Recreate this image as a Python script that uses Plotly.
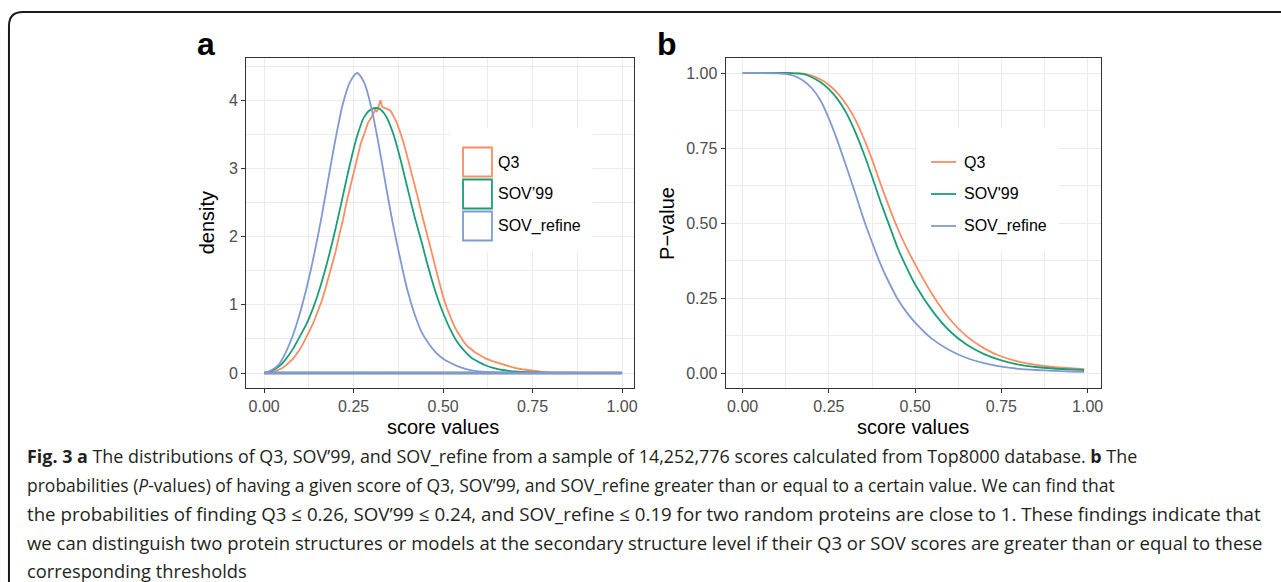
import plotly.graph_objects as go

W, H = 1281, 582

# ---------------- data ----------------
series_names_a = ["Q3", "SOV’99", "SOV_refine"]
series_names_b = ["Q3", "SOV'99", "SOV_refine"]
colors = ["#FC8D62", "#1B9E77", "#7F9AD2"]

# Panel a: density of scores
q3_x = [0.00, 0.01, 0.02, 0.03, 0.04, 0.05, 0.06, 0.07, 0.08, 0.09,
        0.10, 0.11, 0.12, 0.13, 0.14, 0.15, 0.16, 0.17, 0.18, 0.19,
        0.20, 0.21, 0.22, 0.23, 0.24, 0.25, 0.26, 0.27, 0.28, 0.29,
        0.30, 0.31, 0.315, 0.32, 0.325, 0.33, 0.335, 0.34, 0.345, 0.35,
        0.355, 0.36, 0.37, 0.38, 0.39, 0.40, 0.41, 0.42, 0.43, 0.44,
        0.45, 0.46, 0.47, 0.48, 0.49, 0.50, 0.51, 0.52, 0.53, 0.54,
        0.55, 0.56, 0.57, 0.58, 0.59, 0.60, 0.62, 0.64, 0.66, 0.68,
        0.70, 0.72, 0.74, 0.76, 0.78, 0.80, 0.85, 0.90, 1.00]
q3_density = [0.000, 0.004, 0.012, 0.025, 0.045, 0.070, 0.108, 0.150, 0.205, 0.275,
              0.350, 0.445, 0.540, 0.655, 0.770, 0.905, 1.045, 1.215, 1.395, 1.600,
              1.790, 2.030, 2.240, 2.500, 2.710, 2.960, 3.140, 3.370, 3.510, 3.670,
              3.750, 3.860, 3.830, 3.920, 4.000, 3.900, 3.890, 3.880, 3.870, 3.860,
              3.830, 3.780, 3.680, 3.530, 3.370, 3.170, 2.980, 2.760, 2.560, 2.340,
              2.150, 1.920, 1.730, 1.520, 1.310, 1.120, 0.960, 0.820, 0.700, 0.600,
              0.515, 0.440, 0.385, 0.340, 0.300, 0.270, 0.210, 0.170, 0.135, 0.100,
              0.075, 0.055, 0.038, 0.025, 0.015, 0.010, 0.004, 0.001, 0.000]

sm_x = [0.00, 0.02, 0.04, 0.06, 0.08, 0.10, 0.12, 0.14, 0.16, 0.18,
        0.20, 0.22, 0.24, 0.26, 0.28, 0.30, 0.32, 0.34, 0.36, 0.38,
        0.40, 0.42, 0.44, 0.46, 0.48, 0.50, 0.52, 0.54, 0.56, 0.58,
        0.60, 0.62, 0.64, 0.66, 0.68, 0.70, 0.75, 0.80, 0.90, 1.00]
sov99_density = [0.00, 0.03, 0.09, 0.20, 0.35, 0.54, 0.74, 1.00, 1.32, 1.70,
                 2.13, 2.60, 3.07, 3.48, 3.76, 3.87, 3.88, 3.77, 3.52, 3.15,
                 2.72, 2.30, 1.92, 1.52, 1.17, 0.88, 0.64, 0.45, 0.32, 0.22,
                 0.16, 0.11, 0.075, 0.05, 0.035, 0.022, 0.008, 0.003, 0.0, 0.0]
sovref_density = [0.00, 0.04, 0.12, 0.30, 0.55, 0.88, 1.28, 1.75, 2.28, 2.87,
                  3.45, 3.95, 4.27, 4.40, 4.25, 3.88, 3.35, 2.75, 2.18, 1.68,
                  1.22, 0.87, 0.60, 0.43, 0.30, 0.21, 0.15, 0.10, 0.065, 0.04,
                  0.025, 0.015, 0.009, 0.006, 0.004, 0.003, 0.001, 0.0, 0.0, 0.0]

# Panel b: P-values
pv_x = [0.00, 0.05, 0.10, 0.125, 0.15, 0.175, 0.20, 0.225, 0.25, 0.275,
        0.30, 0.325, 0.35, 0.375, 0.40, 0.425, 0.45, 0.475, 0.50, 0.55,
        0.60, 0.65, 0.70, 0.75, 0.80, 0.85, 0.90, 0.95, 0.99]
q3_p = [1.000, 1.000, 1.000, 1.000, 0.999, 0.998, 0.991, 0.979, 0.960, 0.933,
        0.896, 0.848, 0.785, 0.712, 0.630, 0.552, 0.480, 0.418, 0.362, 0.262,
        0.180, 0.122, 0.082, 0.055, 0.038, 0.027, 0.020, 0.016, 0.013]
sov99_p = [1.000, 1.000, 1.000, 1.000, 0.999, 0.997, 0.986, 0.970, 0.946, 0.913,
           0.868, 0.807, 0.735, 0.655, 0.570, 0.492, 0.415, 0.352, 0.295, 0.207,
           0.140, 0.094, 0.063, 0.042, 0.028, 0.020, 0.015, 0.012, 0.010]
sovref_p = [1.000, 1.000, 0.999, 0.997, 0.990, 0.975, 0.950, 0.910, 0.848, 0.773,
            0.690, 0.604, 0.515, 0.436, 0.362, 0.300, 0.245, 0.203, 0.168, 0.113,
            0.076, 0.050, 0.033, 0.021, 0.014, 0.010, 0.007, 0.005, 0.004]

x_ticks = [0.0, 0.25, 0.5, 0.75, 1.0]
ya_ticks = [0, 1, 2, 3, 4]
yb_ticks = [0.0, 0.25, 0.5, 0.75, 1.0]

caption_lines = [
    "<b>Fig. 3 a</b> The distributions of Q3, SOV’99, and SOV_refine from a sample of 14,252,776 scores calculated from Top8000 database. <b>b</b> The",
    "probabilities (<i>P</i>-values) of having a given score of Q3, SOV’99, and SOV_refine greater than or equal to a certain value. We can find that",
    "the probabilities of finding Q3 ≤ 0.26, SOV’99 ≤ 0.24, and SOV_refine ≤ 0.19 for two random proteins are close to 1. These findings indicate that",
    "we can distinguish two protein structures or models at the secondary structure level if their Q3 or SOV scores are greater than or equal to these",
    "corresponding thresholds",
]

# ---------------- helpers ----------------
def px(x):
    return x / W


def py(y):
    return 1 - y / H


FONT = "Liberation Sans, Arial, sans-serif"
LW = 1.8

fig = go.Figure()

# panel a traces
dens_sets = [(q3_x, q3_density, "linear"), (sm_x, sov99_density, "spline"), (sm_x, sovref_density, "spline")]
for (xs, ys, shp), name, col in zip(dens_sets, series_names_a, colors):
    fig.add_trace(go.Scatter(x=xs, y=ys, mode="lines", name=name, xaxis="x", yaxis="y",
                             line=dict(color=col, width=LW, shape=shp, smoothing=0.8)))
    fig.add_trace(go.Scatter(x=[xs[0], xs[-1]], y=[0, 0], mode="lines", xaxis="x", yaxis="y",
                             line=dict(color=col, width=LW + 0.6), showlegend=False, hoverinfo="skip"))

# panel b traces
for ys, name, col in zip([q3_p, sov99_p, sovref_p], series_names_b, colors):
    fig.add_trace(go.Scatter(x=pv_x, y=ys, mode="lines", name=name, xaxis="x2", yaxis="y2",
                             line=dict(color=col, width=LW, shape="spline", smoothing=0.6)))

# ---------------- axes ----------------
GRID = "#EBEBEB"
axis_common = dict(
    showline=True, mirror=True, linecolor="#333333", linewidth=1.4,
    ticks="outside", ticklen=4, tickwidth=1.1, tickcolor="#333333",
    tickfont=dict(family=FONT, size=16, color="#4D4D4D"),
    showgrid=True, gridcolor=GRID, gridwidth=1.4, zeroline=False,
)

# panel a: x=0 at px 265, x=1 at px 624 ; domain 247..635
ax_l, ax_r = 247, 636
a_x0, a_x1 = 265, 624
sa = (a_x1 - a_x0)
fig.update_layout(
    xaxis=dict(domain=[px(ax_l), px(ax_r)], anchor="y",
               range=[(ax_l - a_x0) / sa, (ax_r - a_x0) / sa],
               tickvals=x_ticks, tickformat=".2f",
               minor=dict(dtick=0.125, tick0=0, showgrid=True, gridcolor=GRID, gridwidth=0.7, ticks=""),
               **axis_common),
    yaxis=dict(domain=[py(388), py(58)], anchor="x",
               range=[-0.22, 4.62], tickvals=ya_ticks,
               minor=dict(dtick=0.5, tick0=0, showgrid=True, gridcolor=GRID, gridwidth=0.7, ticks=""),
               **axis_common),
)

# panel b: x=0 at px 745, x=1 at px 1091 ; domain 728..1104
bx_l, bx_r = 728, 1104
b_x0, b_x1 = 745, 1091
sb = (b_x1 - b_x0)
fig.update_layout(
    xaxis2=dict(domain=[px(bx_l), px(bx_r)], anchor="y2",
                range=[(bx_l - b_x0) / sb, (bx_r - b_x0) / sb],
                tickvals=x_ticks, tickformat=".2f",
                minor=dict(dtick=0.125, tick0=0, showgrid=True, gridcolor=GRID, gridwidth=0.7, ticks=""),
                **axis_common),
    yaxis2=dict(domain=[py(388), py(58)], anchor="x2",
                range=[-0.05, 1.05], tickvals=yb_ticks, tickformat=".2f",
                minor=dict(dtick=0.125, tick0=0, showgrid=True, gridcolor=GRID, gridwidth=0.7, ticks=""),
                **axis_common),
)

shapes = []
annotations = []

# legends (manual, ggplot style)
leg_centers = [162, 194, 226]
for lx0, lx1 in [(452, 594), (920, 1062)]:
    shapes.append(dict(type="rect", xref="paper", yref="paper", x0=px(lx0), x1=px(lx1),
                       y0=py(252), y1=py(128), fillcolor="white", line=dict(width=0), layer="above"))

for yc, name, col in zip(leg_centers, series_names_a, colors):
    shapes.append(dict(type="rect", xref="paper", yref="paper", x0=px(464.5), x1=px(493.5),
                       y0=py(yc + 14.5), y1=py(yc - 14.5), fillcolor="white",
                       line=dict(color=col, width=1.8), layer="above"))
    annotations.append(dict(text=name, xref="paper", yref="paper", x=px(498), y=py(yc),
                            xanchor="left", yanchor="middle", showarrow=False,
                            font=dict(family=FONT, size=16, color="#000000")))

for yc, name, col in zip(leg_centers, series_names_b, colors):
    shapes.append(dict(type="line", xref="paper", yref="paper", x0=px(934), x1=px(959),
                       y0=py(yc), y1=py(yc), line=dict(color=col, width=LW), layer="above"))
    annotations.append(dict(text=name, xref="paper", yref="paper", x=px(965), y=py(yc),
                            xanchor="left", yanchor="middle", showarrow=False,
                            font=dict(family=FONT, size=16, color="#000000")))

# axis titles
title_font = dict(family=FONT, size=20, color="#000000")
annotations += [
    dict(text="score values", xref="paper", yref="paper", x=px(444), y=py(427),
         xanchor="center", yanchor="middle", showarrow=False, font=title_font),
    dict(text="score values", xref="paper", yref="paper", x=px(916), y=py(427),
         xanchor="center", yanchor="middle", showarrow=False, font=title_font),
    dict(text="density", xref="paper", yref="paper", x=px(208), y=py(223), textangle=-90,
         xanchor="center", yanchor="middle", showarrow=False, font=title_font),
    dict(text="P−value", xref="paper", yref="paper", x=px(669), y=py(223), textangle=-90,
         xanchor="center", yanchor="middle", showarrow=False, font=title_font),
]

# panel letters
label_font = dict(family=FONT, size=32, color="#000000")
annotations += [
    dict(text="<b>a</b>", xref="paper", yref="paper", x=px(207), y=py(44),
         xanchor="center", yanchor="middle", showarrow=False, font=label_font),
    dict(text="<b>b</b>", xref="paper", yref="paper", x=px(669), y=py(44),
         xanchor="center", yanchor="middle", showarrow=False, font=label_font),
]

# caption
cap_y = [456, 485, 513.5, 542, 570]
cap_size = [17.9, 17.5, 18.7, 18.5, 18.3]
for txt, yc, fs in zip(caption_lines, cap_y, cap_size):
    annotations.append(dict(text=txt, xref="paper", yref="paper", x=px(25), y=py(yc),
                            xanchor="left", yanchor="middle", showarrow=False,
                            font=dict(family="Open Sans, sans-serif", size=fs, color="#231F20")))

# rounded frame
shapes.append(dict(type="path", xref="paper", yref="paper",
                   path=f"M {px(9)} {py(600)} L {px(9)} {py(26)} Q {px(9)} {py(12)} {px(23)} {py(12)} L {px(1295)} {py(12)}",
                   line=dict(color="#1A1A1A", width=2)))

fig.update_layout(
    width=W, height=H, margin=dict(l=0, r=0, t=0, b=0),
    paper_bgcolor="white", plot_bgcolor="white", showlegend=False,
    shapes=shapes, annotations=annotations,
)

fig.write_html("out.html")
